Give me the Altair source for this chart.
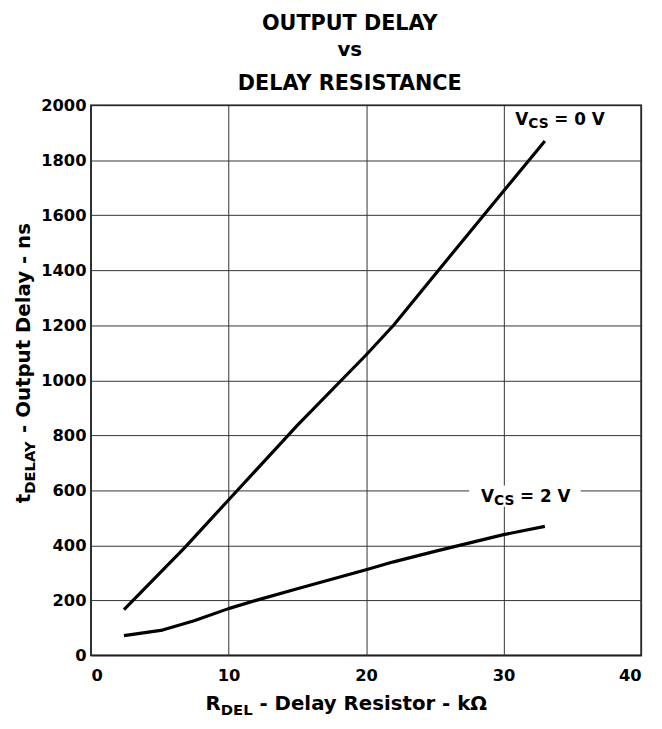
import altair as alt
import pandas as pd

# ---- data ----
r_vcs0 = [2.4, 5.0, 6.8, 10.0, 15.0, 20.0, 22.0, 25.0, 30.0, 33.0]
t_vcs0 = [166, 299, 391, 565, 836, 1092, 1200, 1384, 1688, 1870]
r_vcs2 = [2.4, 5.2, 7.5, 10.0, 12.0, 15.0, 20.0, 22.0, 25.0, 30.0, 33.0]
t_vcs2 = [72, 92, 126, 170, 200, 242, 311, 340, 378, 439, 469]

x_ticks = [0, 10, 20, 30, 40]
y_ticks = [0, 200, 400, 600, 800, 1000, 1200, 1400, 1600, 1800, 2000]

title_lines = ["OUTPUT DELAY", "vs", "DELAY RESISTANCE"]

df = pd.DataFrame({
    "r": r_vcs0 + r_vcs2,
    "t": t_vcs0 + t_vcs2,
    "curve": ["VCS = 0 V"] * len(r_vcs0) + ["VCS = 2 V"] * len(r_vcs2),
})

FONT = "DejaVu Sans"
W = {  # DejaVu Sans Bold advance widths (em)
    "V": 0.774, "C": 0.734, "S": 0.720, " ": 0.348, "R": 0.770, "D": 0.830,
    "E": 0.683, "L": 0.637, "A": 0.774, "Y": 0.724, "t": 0.478,
}


def wid(s, size):
    return sum(W.get(c, 0.65) for c in s) * size


x_scale = alt.Scale(domain=[0, 40], nice=False, zero=False)
y_scale = alt.Scale(domain=[0, 2000], nice=False, zero=False)
x_axis = alt.Axis(values=x_ticks, title=None, grid=True, ticks=False, domain=False,
                  labelPadding=12, labelFontSize=16.5, labelFont=FONT,
                  labelFontWeight="bold", labelColor="black", format="d")
y_axis = alt.Axis(values=y_ticks, title=None, grid=True, ticks=False, domain=False,
                  labelPadding=5, labelFontSize=16.5, labelFont=FONT,
                  labelFontWeight="bold", labelColor="black", format="d")
X = alt.X("r:Q", scale=x_scale, axis=x_axis)
Y = alt.Y("t:Q", scale=y_scale, axis=y_axis)

lines = alt.Chart(df).mark_line(color="black", strokeWidth=3.2, strokeCap="butt",
                                strokeJoin="round").encode(x=X, y=Y, detail="curve:N")

# white gap behind the VCS = 2 V label
box_df = pd.DataFrame({"r": [27.5], "r2": [35.6], "t": [540], "t2": [618]})
box = alt.Chart(box_df).mark_rect(color="white").encode(
    x=X, x2="r2:Q", y=Y, y2="t2:Q")


def segments(parts, main_size, sub_size, sub_dy):
    """Split text into runs; leading spaces become offsets (SVG drops them)."""
    out = []
    off = 0.0
    for txt, is_sub in parts:
        size = sub_size if is_sub else main_size
        stripped = txt.lstrip(" ")
        off += wid(txt[: len(txt) - len(stripped)], size)
        out.append((stripped, size, off, sub_dy if is_sub else 0))
        off += wid(stripped, size)
    return out


def rich_label(r, t, parts):
    d = pd.DataFrame({"r": [r], "t": [t]})
    return [
        alt.Chart(d).mark_text(
            text=txt, align="left", baseline="alphabetic", font=FONT,
            fontWeight="bold", fontSize=size, color="black", dx=off, dy=dy
        ).encode(x=X, y=Y)
        for txt, size, off, dy in segments(parts, 17, 14, 3.5)
    ]


lab0 = rich_label(30.85, 1929, [("V", False), ("CS", True), (" = 0 V", False)])
lab2 = rich_label(28.36, 559, [("V", False), ("CS", True), (" = 2 V", False)])

one = pd.DataFrame({"a": [0]})

# chart title (three centred lines)
title_layers = []
for txt, yy, sz in zip(title_lines, [-76, -50, -15], [21, 20, 21]):
    title_layers.append(alt.Chart(one).mark_text(
        text=txt, align="center", baseline="alphabetic", font=FONT,
        fontWeight="bold", fontSize=sz, color="black").encode(
        x=alt.value(262), y=alt.value(yy)))

# x axis title: R_DEL - Delay Resistor - kΩ
xt_layers = [
    alt.Chart(one).mark_text(
        text=txt, align="left", baseline="alphabetic", font=FONT,
        fontWeight="bold", fontSize=size, color="black", dx=off, dy=dy
    ).encode(x=alt.value(116), y=alt.value(612))
    for txt, size, off, dy in segments(
        [("R", False), ("DEL", True), (" - Delay Resistor - k\u03a9", False)], 20, 15, 5)
]

# y axis title: t_DELAY - Output Delay - ns (rotated)
yt_layers = [
    alt.Chart(one).mark_text(
        text=txt, align="left", baseline="alphabetic", font=FONT,
        fontWeight="bold", fontSize=size, color="black", angle=270, dx=off, dy=dy
    ).encode(x=alt.value(-62), y=alt.value(403))
    for txt, size, off, dy in segments(
        [("t", False), ("DELAY", True), (" - Output Delay - ns", False)], 20, 15, 5)
]

chart = alt.layer(
    lines, box, *lab0, *lab2, *title_layers, *xt_layers, *yt_layers
).properties(
    width=557, height=557,
    padding={"left": 84, "top": 94, "right": 13, "bottom": 60},
    autosize=alt.AutoSizeParams(type="none"),
).configure_view(
    stroke="black", strokeWidth=1.6
).configure_axis(
    gridColor="#333333", gridWidth=1, gridOpacity=1
)

chart.save("out.html", embed_options={"renderer": "svg", "actions": False})
